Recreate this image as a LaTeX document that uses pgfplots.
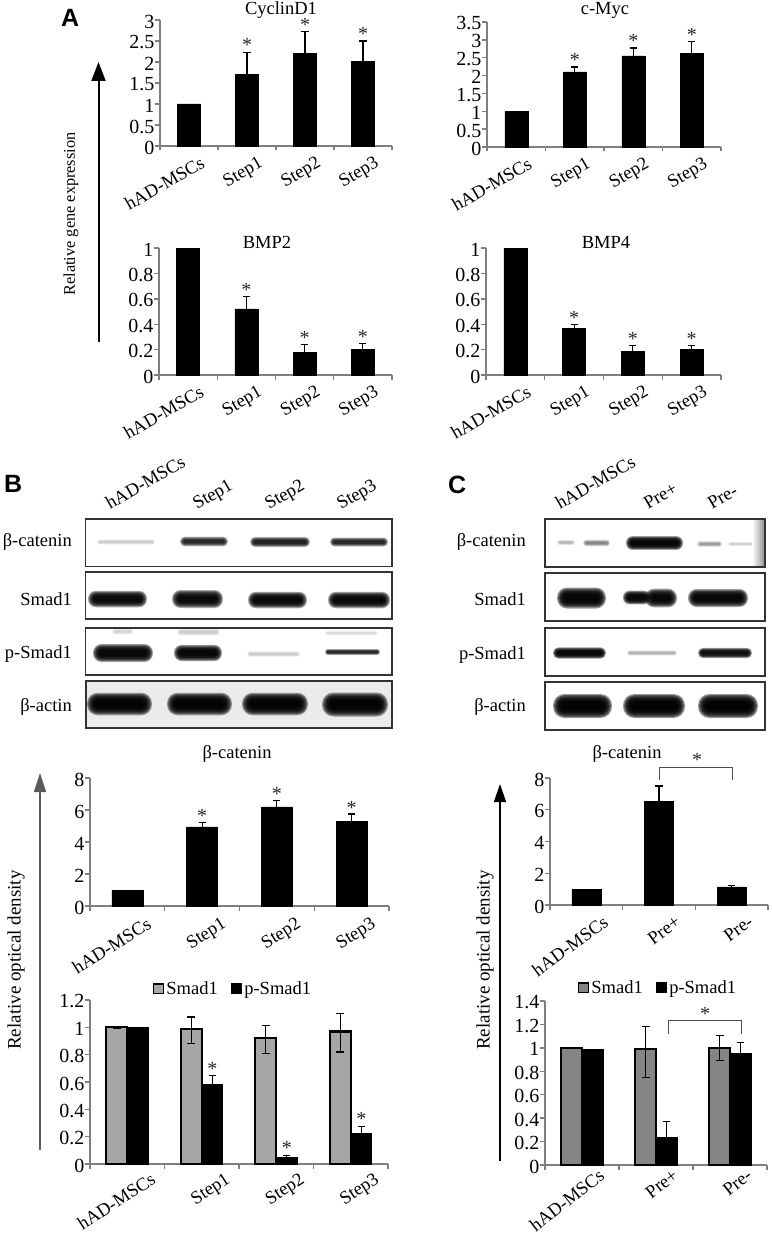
\documentclass[border=0pt]{standalone}
\usepackage{fontspec}
\setmainfont{Liberation Serif}
\newfontfamily\headfont{Liberation Sans}
\usepackage{pgfplots}
\pgfplotsset{compat=1.18}
\usetikzlibrary{arrows.meta}

\newcommand\fs{\fontsize{18.5}{18.5}\selectfont}
\newcommand\ft{\fontsize{20}{20}\selectfont}
\definecolor{axisgray}{HTML}{7F7F7F}
\definecolor{smadlight}{HTML}{A6A6A6}
\definecolor{smaddark}{HTML}{858585}

\pgfplotsset{
  panel/.style={
    scale only axis, clip=false, ymin=0,
    axis x line*=bottom, axis y line*=left,
    axis line style={axisgray, line width=1.6pt},
    ytick pos=left, xtick pos=bottom, tick align=outside,
    major tick length=5pt, minor tick length=4.5pt,
    major x tick style={draw=none},
    minor x tick style={axisgray, line width=1.4pt},
    major y tick style={axisgray, line width=1.4pt},
    /pgf/number format/assume math mode=true,
    /pgf/number format/fixed,
    y tick label style={font=\ft, inner sep=0pt, xshift=-0.5pt, yshift=-1.5pt},
    x tick label style={font=\fs, rotate=30, anchor=north east, inner sep=0pt, xshift=7pt, yshift=-9pt},
  },
  steps/.style={xmin=-0.5, xmax=3.5, xtick={0,1,2,3},
    minor xtick={-0.5,0.5,1.5,2.5,3.5},
    xticklabels={hAD-MSCs,Step1,Step2,Step3}},
  pres/.style={xmin=-0.5, xmax=2.5, xtick={0,1,2},
    minor xtick={-0.5,0.5,1.5,2.5},
    xticklabels={hAD-MSCs,Pre+,Pre-}},
  errs/.style={error bars/.cd, y dir=plus, y explicit,
    error bar style={black, line width=1.2pt},
    error mark options={rotate=90, black, mark size=3.6pt, line width=1.2pt}},
  errsboth/.style={error bars/.cd, y dir=both, y explicit,
    error bar style={black, line width=1.2pt},
    error mark options={rotate=90, black, mark size=4pt, line width=1.2pt}},
  pairlegend/.style={
    legend columns=2,
    legend style={draw=none, fill=none, font=\fs, inner sep=0pt,
      /tikz/every even column/.style={column sep=11pt}},
    legend image code/.code={\draw[##1, line width=1.5pt] (0pt,-4.5pt) rectangle (10pt,5pt);},
  },
}
\tikzset{sig/.style={anchor=base, inner sep=0pt, font=\ft, text=black!85}}

% one blot band, soft edges from stacked translucent pills
\newcommand\band[5]{%
  \foreach \s in {1.5,1.35,1.2,1.05,0.9,0.75,0.6,0.45}{%
    \fill[black, opacity={#5*0.55}, rounded corners={#4*\s*0.95pt}]
      ({#1+(1.5-\s)*#4},{-(#3)-#4*\s}) rectangle ({#2-(1.5-\s)*#4},{-(#3)+#4*\s});
  }%
}
\newcommand\blotbox[4]{\draw[black!80, line width=1.1pt] (#1,-#3) rectangle (#2,-#4);}

\begin{document}
\begin{tikzpicture}[x=1pt, y=1pt]
\useasboundingbox (0,0) rectangle (771,-1238);

% ---------- A ----------
\node[anchor=base west, inner sep=0pt, font=\headfont\bfseries\fontsize{25}{25}\selectfont] at (61,-27) {A};
\draw[black, line width=2pt, -{Triangle[length=19pt, width=14pt]}] (98.5,-342) -- (98.5,-62);
\node[rotate=90, font=\fontsize{16.3}{16.3}\selectfont] at (71,-214) {Relative gene expression};

\begin{axis}[panel, steps, at={(160pt,-146pt)}, anchor=south west, width=232pt, height=126pt,
    ymax=3, ytick={0,0.5,1,1.5,2,2.5,3}, ybar, bar width=23pt]
  \addplot[fill=black, draw=black, errs] coordinates {
    (0,1) (1,1.7) +- (0,0.53) (2,2.2) +- (0,0.52) (3,2.02) +- (0,0.48)};
  \node[sig] at (axis cs:1,2.25) {*};
  \node[sig] at (axis cs:2,2.73) {*};
  \node[sig] at (axis cs:3,2.5) {*};
\end{axis}
\node[anchor=base, font=\fs] at (281,-15) {CyclinD1};

\begin{axis}[panel, steps, at={(487pt,-147pt)}, anchor=south west, width=234pt, height=125pt,
    ymax=3.5, ytick={0,0.5,1,1.5,2,2.5,3,3.5}, ybar, bar width=23pt]
  \addplot[fill=black, draw=black, errs] coordinates {
    (0,1) (1,2.1) +- (0,0.14) (2,2.55) +- (0,0.22) (3,2.62) +- (0,0.33)};
  \node[sig] at (axis cs:1,2.25) {*};
  \node[sig] at (axis cs:2,2.78) {*};
  \node[sig] at (axis cs:3,2.95) {*};
\end{axis}
\node[anchor=base, font=\fs] at (605,-15) {c-Myc};

\begin{axis}[panel, steps, at={(159pt,-375pt)}, anchor=south west, width=233pt, height=127pt,
    ymax=1, ytick={0,0.2,0.4,0.6,0.8,1}, ybar, bar width=23pt]
  \addplot[fill=black, draw=black, errs] coordinates {
    (0,1) (1,0.52) +- (0,0.095) (2,0.18) +- (0,0.06) (3,0.2) +- (0,0.045)};
  \node[sig] at (axis cs:1,0.615) {*};
  \node[sig] at (axis cs:2,0.24) {*};
  \node[sig] at (axis cs:3,0.245) {*};
\end{axis}
\node[anchor=base, font=\fs] at (267,-249) {BMP2};

\begin{axis}[panel, steps, at={(486pt,-375pt)}, anchor=south west, width=235pt, height=127pt,
    ymax=1, ytick={0,0.2,0.4,0.6,0.8,1}, ybar, bar width=23pt]
  \addplot[fill=black, draw=black, errs] coordinates {
    (0,1) (1,0.37) +- (0,0.03) (2,0.185) +- (0,0.05) (3,0.2) +- (0,0.03)};
  \node[sig] at (axis cs:1,0.40) {*};
  \node[sig] at (axis cs:2,0.235) {*};
  \node[sig] at (axis cs:3,0.23) {*};
\end{axis}
\node[anchor=base, font=\fs] at (606,-249) {BMP4};

% ---------- B blots ----------
\node[anchor=base west, inner sep=0pt, font=\headfont\bfseries\fontsize{25}{25}\selectfont] at (4,-492) {B};
\foreach \lx/\txt in {110/hAD-MSCs,197/Step1,269/Step2,341/Step3}
  \node[anchor=base west, inner sep=0pt, rotate=30, font=\fs] at (\lx,-510) {\txt};

\fill[black!8] (86,-681) rectangle (392,-728);
\band{97}{155}{542}{1.8}{0.05}
\band{180}{228}{541.5}{3.2}{0.38}
\band{250}{310}{542}{3.4}{0.4}
\band{330}{388}{542}{3}{0.38}
\blotbox{85.5}{392}{519}{566.5}

\band{88}{147}{599}{5.5}{0.6}
\band{172}{223}{599}{6}{0.6}
\band{248}{307}{600}{5.5}{0.6}
\band{328}{390}{600}{5.5}{0.6}
\blotbox{85.5}{392}{572}{619}

\band{112}{133}{631.5}{2}{0.04}
\band{177}{220}{632}{2.4}{0.05}
\band{325}{378}{633}{1.6}{0.035}
\band{93}{153}{653}{6}{0.65}
\band{174}{222}{653}{5.4}{0.65}
\band{247}{300}{654}{2}{0.05}
\band{325}{380}{652}{2}{0.38}
\blotbox{85.5}{392}{628}{675}

\band{87}{152}{704}{7.5}{0.7}
\band{167}{232}{704}{7.5}{0.7}
\band{242}{308}{704}{7.5}{0.7}
\band{322}{388}{704.5}{8}{0.7}
\blotbox{86}{392}{681}{728}

\node[anchor=base east, inner sep=0pt, font=\fs] at (72,-546) {β-catenin};
\node[anchor=base east, inner sep=0pt, font=\fs] at (72,-605) {Smad1};
\node[anchor=base east, inner sep=0pt, font=\fs] at (72,-658) {p-Smad1};
\node[anchor=base east, inner sep=0pt, font=\fs] at (72,-711) {β-actin};

% ---------- C blots ----------
\node[anchor=base west, inner sep=0pt, font=\headfont\bfseries\fontsize{25}{25}\selectfont] at (448,-493) {C};
\foreach \lx/\txt in {560/hAD-MSCs,648/Pre+,712/Pre-}
  \node[anchor=base west, inner sep=0pt, rotate=30, font=\fs] at (\lx,-510) {\txt};

\shade[left color=white, right color=black!45] (752,-519) rectangle (765,-567);
\band{557}{575}{542.5}{1.8}{0.07}
\band{583}{610}{543}{2.2}{0.14}
\band{626}{683}{543}{4.6}{0.65}
\band{697}{722}{544}{2}{0.11}
\band{728}{753}{544}{1.4}{0.05}
\blotbox{545}{765}{519}{567}

\band{557}{606}{598}{7}{0.7}
\band{623}{650}{597.5}{4.6}{0.65}
\band{645}{677}{598}{6.2}{0.65}
\band{688}{748}{598}{6}{0.65}
\blotbox{545}{765}{573}{621}

\band{553}{606}{653}{3.8}{0.6}
\band{627}{677}{653}{1.8}{0.08}
\band{698}{752}{653}{3.4}{0.55}
\blotbox{545}{765}{628}{676}

\band{553}{612}{706}{8}{0.75}
\band{623}{685}{706}{8}{0.75}
\band{698}{758}{706}{8}{0.75}
\blotbox{545}{765}{682}{730}

\node[anchor=base east, inner sep=0pt, font=\fs] at (526,-546) {β-catenin};
\node[anchor=base east, inner sep=0pt, font=\fs] at (526,-605) {Smad1};
\node[anchor=base east, inner sep=0pt, font=\fs] at (526,-659) {p-Smad1};
\node[anchor=base east, inner sep=0pt, font=\fs] at (526,-711) {β-actin};

% ---------- B charts ----------
\draw[black!65, line width=1.4pt, -{Triangle[length=19pt, width=12pt]}] (40,-1150) -- (40,-773);
\node[rotate=90, font=\fontsize{19}{19}\selectfont] at (16,-960) {Relative optical density};

\begin{axis}[panel, steps, at={(90pt,-906pt)}, anchor=south west, width=299pt, height=128pt,
    ymax=8, ytick={0,2,4,6,8}, ybar, bar width=31pt,
    x tick label style={rotate=2, xshift=6pt, yshift=-5pt}]
  \addplot[fill=black, draw=black, errs] coordinates {
    (0,1) (1,4.95) +- (0,0.25) (2,6.2) +- (0,0.4) (3,5.3) +- (0,0.45)};
  \node[sig] at (axis cs:1,5.2) {*};
  \node[sig] at (axis cs:2,6.6) {*};
  \node[sig] at (axis cs:3,5.75) {*};
\end{axis}
\node[anchor=base, font=\fs] at (237,-758) {β-catenin};

\begin{axis}[panel, steps, at={(90pt,-1164pt)}, anchor=south west, width=298pt, height=164pt,
    ymax=1.2, ytick={0,0.2,0.4,0.6,0.8,1,1.2}, ybar=0pt, bar width=21pt, pairlegend,
    x tick label style={rotate=3, xshift=11pt, yshift=-5pt},
    legend style={at={(axis description cs:0.48,1.067)}, anchor=center}]
  \addplot[fill=smadlight, draw=black, line width=2.2pt, errsboth] coordinates {
    (0,1) +- (0,0.005) (1,0.99) += (0,0.085) -= (0,0.11)
    (2,0.92) += (0,0.095) -= (0,0.11) (3,0.97) += (0,0.13) -= (0,0.15)};
  \addplot[fill=black, draw=black, line width=1.2pt, errs] coordinates {
    (0,1) (1,0.58) +- (0,0.07) (2,0.05) +- (0,0.01) (3,0.22) +- (0,0.055)};
  \legend{Smad1,p-Smad1}
  \node[sig, xshift=10.5pt] at (axis cs:1,0.65) {*};
  \node[sig, xshift=10.5pt] at (axis cs:2,0.07) {*};
  \node[sig, xshift=10.5pt] at (axis cs:3,0.28) {*};
\end{axis}

% ---------- C charts ----------
\draw[black, line width=1.4pt, -{Triangle[length=18pt, width=12pt]}] (500,-1161) -- (500,-784);
\node[rotate=90, font=\fontsize{19}{19}\selectfont] at (485,-960) {Relative optical density};

\begin{axis}[panel, pres, at={(550pt,-905pt)}, anchor=south west, width=218pt, height=127pt,
    ymax=8, ytick={0,2,4,6,8}, ybar, bar width=29pt,
    x tick label style={rotate=6, xshift=4pt, yshift=-3pt}]
  \addplot[fill=black, draw=black, errs] coordinates {
    (0,1) (1,6.55) +- (0,0.95) (2,1.15) +- (0,0.1)};
\end{axis}
\node[anchor=base, font=\fs] at (627,-758) {β-catenin};
\draw[black!70, line width=1pt] (659,-780) -- (659,-767) -- (732,-767) -- (732,-780);
\node[sig] at (697,-766) {*};

\begin{axis}[panel, pres, at={(545pt,-1165pt)}, anchor=south west, width=222pt, height=164pt,
    ymax=1.4, ytick={0,0.2,0.4,0.6,0.8,1,1.2,1.4}, ybar=0pt, bar width=21pt, pairlegend,
    x tick label style={rotate=8, xshift=8pt, yshift=2pt},
    legend style={at={(axis description cs:0.509,1.079)}, anchor=center}]
  \addplot[fill=smaddark, draw=black, line width=2.2pt, errsboth] coordinates {
    (0,1) +- (0,0.005) (1,0.99) += (0,0.19) -= (0,0.24) (2,1) +- (0,0.105)};
  \addplot[fill=black, draw=black, line width=1.2pt, errs] coordinates {
    (0,0.985) (1,0.235) +- (0,0.135) (2,0.955) +- (0,0.09)};
  \legend{Smad1,p-Smad1}
\end{axis}
\draw[black!70, line width=1pt] (668,-1034) -- (668,-1020) -- (741,-1020) -- (741,-1034);
\node[sig] at (705,-1020) {*};
\end{tikzpicture}
\end{document}
